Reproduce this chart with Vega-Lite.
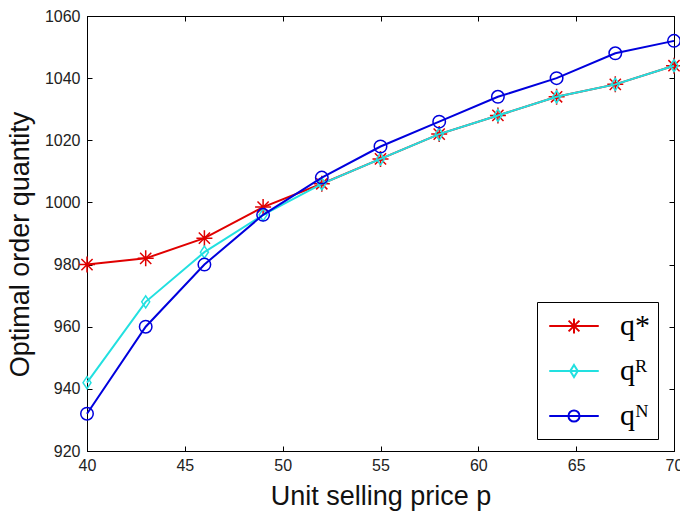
{
  "$schema": "https://vega.github.io/schema/vega-lite/v6.json",
  "width": 587,
  "height": 435,
  "autosize": "none",
  "padding": {"left": 87, "top": 16, "right": 6, "bottom": 65},
  "background": "white",
  "config": {
    "view": {"stroke": "#000", "strokeWidth": 1},
    "axis": {
      "grid": false,
      "domainColor": "#000",
      "tickColor": "#000",
      "tickSize": -5,
      "labelFlush": false,
      "labelFont": "Liberation Sans",
      "labelFontSize": 16,
      "labelColor": "#222",
      "titleFont": "Liberation Sans",
      "titleFontWeight": "normal",
      "titleColor": "#111"
    }
  },
  "data": {
    "values": [
      {"p": 40, "q": 980, "s": "q*"}, {"p": 43, "q": 982, "s": "q*"}, {"p": 46, "q": 988.5, "s": "q*"}, {"p": 49, "q": 998.5, "s": "q*"}, {"p": 52, "q": 1006, "s": "q*"}, {"p": 55, "q": 1014, "s": "q*"}, {"p": 58, "q": 1022, "s": "q*"}, {"p": 61, "q": 1028, "s": "q*"}, {"p": 64, "q": 1034, "s": "q*"}, {"p": 67, "q": 1038, "s": "q*"}, {"p": 70, "q": 1044, "s": "q*"},
      {"p": 40, "q": 942, "s": "qᴿ"}, {"p": 43, "q": 968, "s": "qᴿ"}, {"p": 46, "q": 984, "s": "qᴿ"}, {"p": 49, "q": 996, "s": "qᴿ"}, {"p": 52, "q": 1006, "s": "qᴿ"}, {"p": 55, "q": 1014, "s": "qᴿ"}, {"p": 58, "q": 1022, "s": "qᴿ"}, {"p": 61, "q": 1028, "s": "qᴿ"}, {"p": 64, "q": 1034, "s": "qᴿ"}, {"p": 67, "q": 1038, "s": "qᴿ"}, {"p": 70, "q": 1044, "s": "qᴿ"},
      {"p": 40, "q": 932, "s": "qᴺ"}, {"p": 43, "q": 960, "s": "qᴺ"}, {"p": 46, "q": 980, "s": "qᴺ"}, {"p": 49, "q": 996, "s": "qᴺ"}, {"p": 52, "q": 1008, "s": "qᴺ"}, {"p": 55, "q": 1018, "s": "qᴺ"}, {"p": 58, "q": 1026, "s": "qᴺ"}, {"p": 61, "q": 1034, "s": "qᴺ"}, {"p": 64, "q": 1040, "s": "qᴺ"}, {"p": 67, "q": 1048, "s": "qᴺ"}, {"p": 70, "q": 1052, "s": "qᴺ"}
    ]
  },
  "resolve": {"axis": {"x": "independent", "y": "independent"}},
  "layer": [
    {
      "transform": [{"filter": "datum.s === 'q*'"}],
      "mark": {"type": "line", "strokeWidth": 2},
      "encoding": {
        "x": {"field": "p", "type": "quantitative", "scale": {"domain": [40, 70], "nice": false, "zero": false},
          "axis": {"orient": "bottom", "values": [40, 45, 50, 55, 60, 65, 70], "format": "d", "title": "Unit selling price p", "titleFontSize": 27, "labelPadding": 11, "titlePadding": 10}},
        "y": {"field": "q", "type": "quantitative", "scale": {"domain": [920, 1060], "nice": false, "zero": false},
          "axis": {"orient": "left", "values": [920, 940, 960, 980, 1000, 1020, 1040, 1060], "format": "d", "title": "Optimal order quantity", "titleFontSize": 27, "labelPadding": 12, "titlePadding": 10, "titleY": 228}},
        "color": {"field": "s", "type": "nominal", "sort": ["q*", "qᴿ", "qᴺ"],
          "scale": {"domain": ["q*", "qᴿ", "qᴺ"], "range": ["#e00000", "#22e0e0", "#0000dd"]},
          "legend": {
            "title": null, "orient": "none", "legendX": 450, "legendY": 286,
            "strokeColor": "#000", "fillColor": "#fff", "padding": 8,
            "symbolSize": 900, "symbolStrokeWidth": 2, "symbolFillColor": "transparent", "symbolOffset": 13,
            "labelFont": "Liberation Serif", "labelFontSize": 30, "labelColor": "#000", "labelOffset": 30, "rowPadding": 14,
            "encode": {"symbols": {"update": {
              "fill": {"value": "transparent"},
              "shape": {"signal": "datum.value === 'q*' ? 'M-1.65,0H1.65M0,-0.5V0.5M-0.36,-0.36L0.36,0.36M-0.36,0.36L0.36,-0.36' : datum.value === 'qᴿ' ? 'M-1.65,0H1.65M0,-0.4L0.25,0L0,0.4L-0.25,0Z' : 'M-1.65,0H1.65M-0.37,0A0.37,0.37 0 1,0 0.37,0A0.37,0.37 0 1,0 -0.37,0Z'"}
            }}}
          }}
      }
    },
    {
      "transform": [{"filter": "datum.s === 'q*'"}],
      "mark": {"type": "point", "filled": false, "strokeWidth": 1.5, "size": 256, "opacity": 1, "color": "#e00000",
        "shape": "M-1,0H1M0,-1V1M-0.7,-0.7L0.7,0.7M-0.7,0.7L0.7,-0.7"},
      "encoding": {
        "x": {"field": "p", "type": "quantitative", "scale": {"domain": [40, 70], "nice": false, "zero": false},
          "axis": {"orient": "top", "values": [40, 45, 50, 55, 60, 65, 70], "labels": false, "title": null}},
        "y": {"field": "q", "type": "quantitative", "scale": {"domain": [920, 1060], "nice": false, "zero": false},
          "axis": {"orient": "right", "values": [920, 940, 960, 980, 1000, 1020, 1040, 1060], "labels": false, "title": null}}
      }
    },
    {
      "transform": [{"filter": "datum.s === 'qᴿ'"}],
      "mark": {"type": "line", "strokeWidth": 2},
      "encoding": {
        "x": {"field": "p", "type": "quantitative", "axis": null},
        "y": {"field": "q", "type": "quantitative", "axis": null},
        "color": {"field": "s", "type": "nominal", "sort": ["q*", "qᴿ", "qᴺ"]}
      }
    },
    {
      "transform": [{"filter": "datum.s === 'qᴿ'"}],
      "mark": {"type": "point", "filled": false, "strokeWidth": 1.5, "size": 256, "opacity": 1, "color": "#22e0e0",
        "shape": "M0,-0.75L0.5,0L0,0.75L-0.5,0Z"},
      "encoding": {
        "x": {"field": "p", "type": "quantitative", "axis": null},
        "y": {"field": "q", "type": "quantitative", "axis": null}
      }
    },
    {
      "transform": [{"filter": "datum.s === 'qᴺ'"}],
      "mark": {"type": "line", "strokeWidth": 2},
      "encoding": {
        "x": {"field": "p", "type": "quantitative", "axis": null},
        "y": {"field": "q", "type": "quantitative", "axis": null},
        "color": {"field": "s", "type": "nominal", "sort": ["q*", "qᴿ", "qᴺ"]}
      }
    },
    {
      "transform": [{"filter": "datum.s === 'qᴺ'"}],
      "mark": {"type": "point", "filled": false, "strokeWidth": 1.5, "size": 256, "opacity": 1, "color": "#0000dd",
        "shape": "M-0.78,0A0.78,0.78 0 1,0 0.78,0A0.78,0.78 0 1,0 -0.78,0Z"},
      "encoding": {
        "x": {"field": "p", "type": "quantitative", "axis": null},
        "y": {"field": "q", "type": "quantitative", "axis": null}
      }
    }
  ]
}
